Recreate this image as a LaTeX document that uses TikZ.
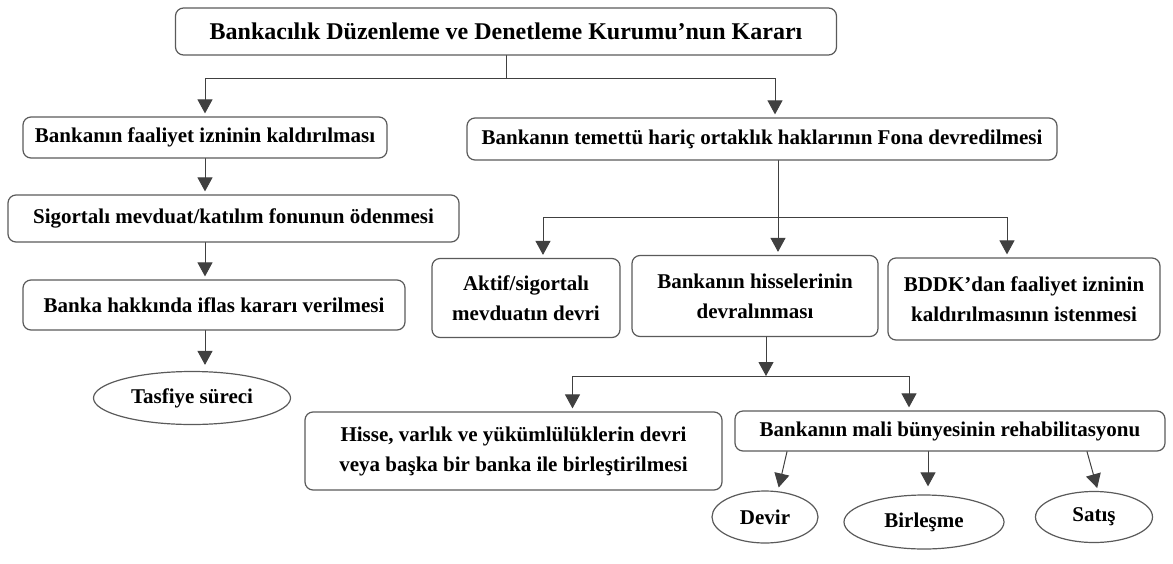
\documentclass[tikz,border=0pt]{standalone}
\usepackage{fontspec}
\setmainfont{Liberation Serif}
\usetikzlibrary{arrows.meta,shapes.geometric}
\definecolor{linegray}{HTML}{404040}
\definecolor{boxgray}{HTML}{5A5A5A}
\newcommand{\boxfont}{\bfseries\fontsize{21}{30}\selectfont}

\begin{document}
\begin{tikzpicture}[x=1pt, y=-1pt, line cap=round,
		box/.style={
			draw=boxgray,
			line width=1.2pt,
			rounded corners=8pt,
			align=center,
			inner sep=0pt,
			font=\boxfont
		},
		oval/.style={
			ellipse,
			draw=boxgray,
			line width=1.2pt,
			inner sep=0pt,
			font=\boxfont
		},
		arr/.style={
			-{Triangle[length=14pt,width=15pt]},
			draw=linegray,
			line width=1pt,
			shorten >=3pt
		},
		link/.style={draw=linegray, line width=1pt}
	]
	\useasboundingbox (0,0) rectangle (1173,563);
	% top
	\node[box, minimum width=661pt, minimum height=47pt,
		font=\bfseries\fontsize{24}{30}\selectfont] (karar) at (506,31.5)
		{Bankacılık Düzenleme ve Denetleme Kurumu’nun Kararı};
	% left column
	\node[box, minimum width=364pt, minimum height=41pt] (izin) at (205,137.5)
		{Bankanın faaliyet izninin kaldırılması};
	\node[box, minimum width=451pt, minimum height=47pt] (sigorta) at (233.5,218.5)
		{Sigortalı mevduat/katılım fonunun ödenmesi};
	\node[box, minimum width=382pt, minimum height=50pt] (iflas) at (214,305)
		{Banka hakkında iflas kararı verilmesi};
	\node[oval, minimum width=197pt, minimum height=53pt] (tasfiye) at (192,398)
		{Tasfiye süreci};
	% right column
	\node[box, minimum width=590pt, minimum height=42pt] (fon) at (762,139)
		{Bankanın temettü hariç ortaklık haklarının Fona devredilmesi};
	\node[box, minimum width=188pt, minimum height=79pt] (aktif) at (526,298)
		{Aktif/sigortalı\\mevduatın devri};
	\node[box, minimum width=246pt, minimum height=81pt] (hisse) at (755,296)
		{Bankanın hisselerinin\\devralınması};
	\node[box, minimum width=272pt, minimum height=82pt] (bddk) at (1024,299)
		{BDDK’dan faaliyet izninin\\kaldırılmasının istenmesi};
	\node[box, minimum width=417pt, minimum height=78pt] (hvy) at (513.5,451)
		{Hisse, varlık ve yükümlülüklerin devri\\veya başka bir banka ile birleştirilmesi};
	\node[box, minimum width=430pt, minimum height=40pt] (rehab) at (950,431)
		{Bankanın mali bünyesinin rehabilitasyonu};
	\node[oval, minimum width=106pt, minimum height=52pt] (devir) at (765,517)
		{Devir};
	\node[oval, minimum width=160pt, minimum height=54pt] (birlesme) at (924,522)
		{Birleşme};
	\node[oval, minimum width=117pt, minimum height=51pt] (satis) at (1094,517)
		{Satış};

	% branch points
	\coordinate (kb) at (506,78);
	\coordinate (fb) at (778,217);
	\coordinate (hb) at (766,376);

	\draw[link] (karar.south) -- (kb);
	\draw[arr] (kb) -| (izin.north);
	\draw[arr] (kb) -| ([xshift=13pt]fon.north);

	\draw[arr] (izin.south) -- (izin.south |- sigorta.north);
	\draw[arr] (izin.south |- sigorta.south) -- (izin.south |- iflas.north);
	\draw[arr, shorten >=6pt] (izin.south |- iflas.south) -- (izin.south |- tasfiye.north);

	\draw[link] ([xshift=16pt]fon.south) -- (fb);
	\draw[arr] (fb) -| ([xshift=17pt]aktif.north);
	\draw[arr] (fb) -- (fb |- hisse.north);
	\draw[arr] (fb) -| ([xshift=-17pt]bddk.north);

	\draw[arr, shorten >=0pt] ([xshift=11pt]hisse.south) -- (hb);
	\draw[arr] (hb) -| ([xshift=59pt]hvy.north);
	\draw[arr] (hb) -| ([xshift=-41pt]rehab.north);

	\draw[arr] ([xshift=-163pt]rehab.south) -- ([xshift=13pt]devir.north);
	\draw[arr, shorten >=8pt] ([xshift=-22pt]rehab.south) -- ([xshift=4pt]birlesme.north);
	\draw[arr] ([xshift=137pt]rehab.south) -- ([xshift=4pt]satis.north);
\end{tikzpicture}
\end{document}
